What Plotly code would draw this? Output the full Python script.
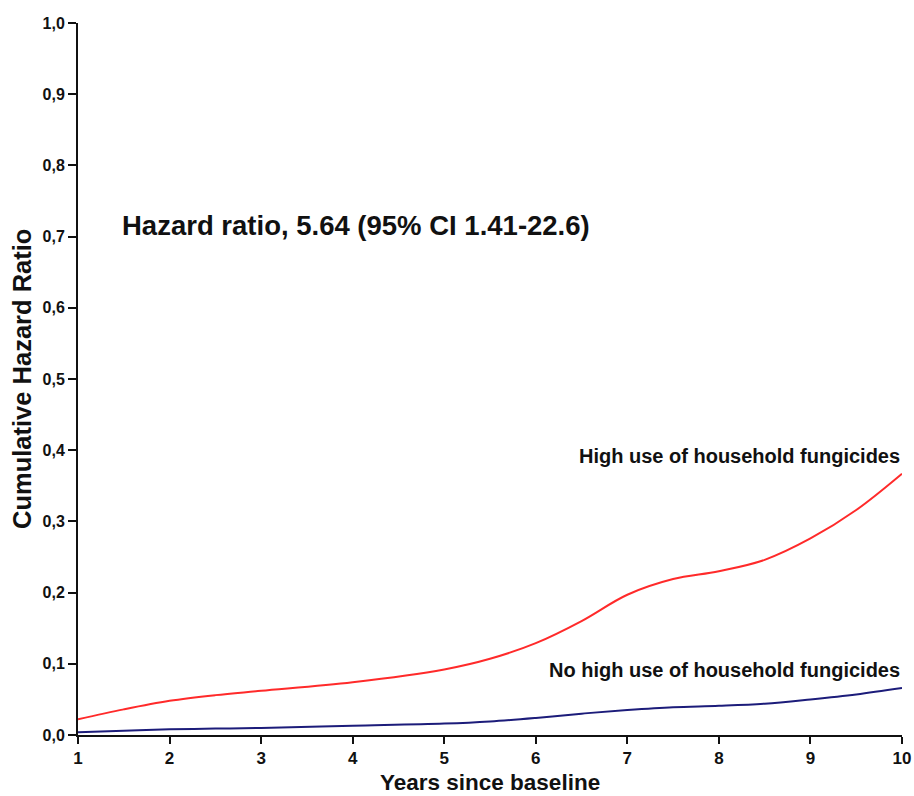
import plotly.graph_objects as go

years = [1, 1.5, 2, 2.5, 3, 4, 5, 5.5, 6, 6.5, 7, 7.5, 8, 8.5, 9, 9.5, 10]
high_use = [0.022, 0.036, 0.048, 0.056, 0.062, 0.074, 0.092, 0.107, 0.129, 0.160, 0.197, 0.219, 0.230, 0.246, 0.276, 0.316, 0.367]
no_high_use = [0.004, 0.006, 0.008, 0.009, 0.010, 0.013, 0.016, 0.019, 0.024, 0.030, 0.035, 0.039, 0.041, 0.044, 0.050, 0.057, 0.066]

x_ticks = [1, 2, 3, 4, 5, 6, 7, 8, 9, 10]
y_ticks = [0.0, 0.1, 0.2, 0.3, 0.4, 0.5, 0.6, 0.7, 0.8, 0.9, 1.0]
y_tick_labels = ["0,0", "0,1", "0,2", "0,3", "0,4", "0,5", "0,6", "0,7", "0,8", "0,9", "1,0"]

FONT = "Liberation Sans, Arial, sans-serif"
INK = "#111111"

fig = go.Figure()
fig.add_trace(go.Scatter(x=years, y=high_use, mode="lines",
                         line=dict(color="#ff2a2a", width=2, shape="spline", smoothing=1.0),
                         name="High use of household fungicides", showlegend=False))
fig.add_trace(go.Scatter(x=years, y=no_high_use, mode="lines",
                         line=dict(color="#1c1c7a", width=2, shape="spline", smoothing=1.0),
                         name="No high use of household fungicides", showlegend=False))

fig.add_annotation(x=1.46, y=0.716, xref="x", yref="y", xanchor="left", yanchor="middle",
                   text="Hazard ratio, 5.64 (95% CI 1.41-22.6)", showarrow=False,
                   font=dict(family=FONT, size=27.5, color=INK, weight="bold"))
fig.add_annotation(x=10.0, y=0.392, xref="x", yref="y", xanchor="right", yanchor="middle",
                   text="High use of household fungicides", showarrow=False,
                   font=dict(family=FONT, size=20, color=INK, weight="bold"))
fig.add_annotation(x=10.0, y=0.092, xref="x", yref="y", xanchor="right", yanchor="middle",
                   text="No high use of household fungicides", showarrow=False,
                   font=dict(family=FONT, size=20, color=INK, weight="bold"))
# axis titles
fig.add_annotation(x=-0.068, y=0.5, xref="paper", yref="paper", xanchor="center", yanchor="middle",
                   text="Cumulative Hazard Ratio", textangle=-90, showarrow=False,
                   font=dict(family=FONT, size=25.5, color=INK, weight="bold"))
fig.add_annotation(x=0.5, y=-0.0665, xref="paper", yref="paper", xanchor="center", yanchor="middle",
                   text="Years since baseline", showarrow=False,
                   font=dict(family=FONT, size=22.5, color=INK, weight="bold"))

fig.update_layout(
    width=914, height=796,
    margin=dict(l=78, r=12, t=23, b=61, autoexpand=False),
    paper_bgcolor="white", plot_bgcolor="white",
    font=dict(family=FONT, color=INK),
    xaxis=dict(range=[1, 10], tickvals=x_ticks, ticks="outside", ticklen=7, tickwidth=2,
               tickcolor=INK, showline=True, linewidth=2, linecolor=INK,
               showgrid=False, zeroline=False, automargin=False,
               tickfont=dict(family=FONT, size=17, weight="bold", color=INK)),
    yaxis=dict(range=[0, 1], tickvals=y_ticks, ticktext=y_tick_labels, ticks="outside",
               ticklen=8, tickwidth=2, tickcolor=INK, showline=True, linewidth=2,
               linecolor=INK, showgrid=False, zeroline=False, automargin=False,
               tickfont=dict(family=FONT, size=16, weight="bold", color=INK)),
)

fig.write_html("out.html", config={"displayModeBar": False},
               post_script="document.body.style.margin='0px';document.body.style.overflow='hidden';")
